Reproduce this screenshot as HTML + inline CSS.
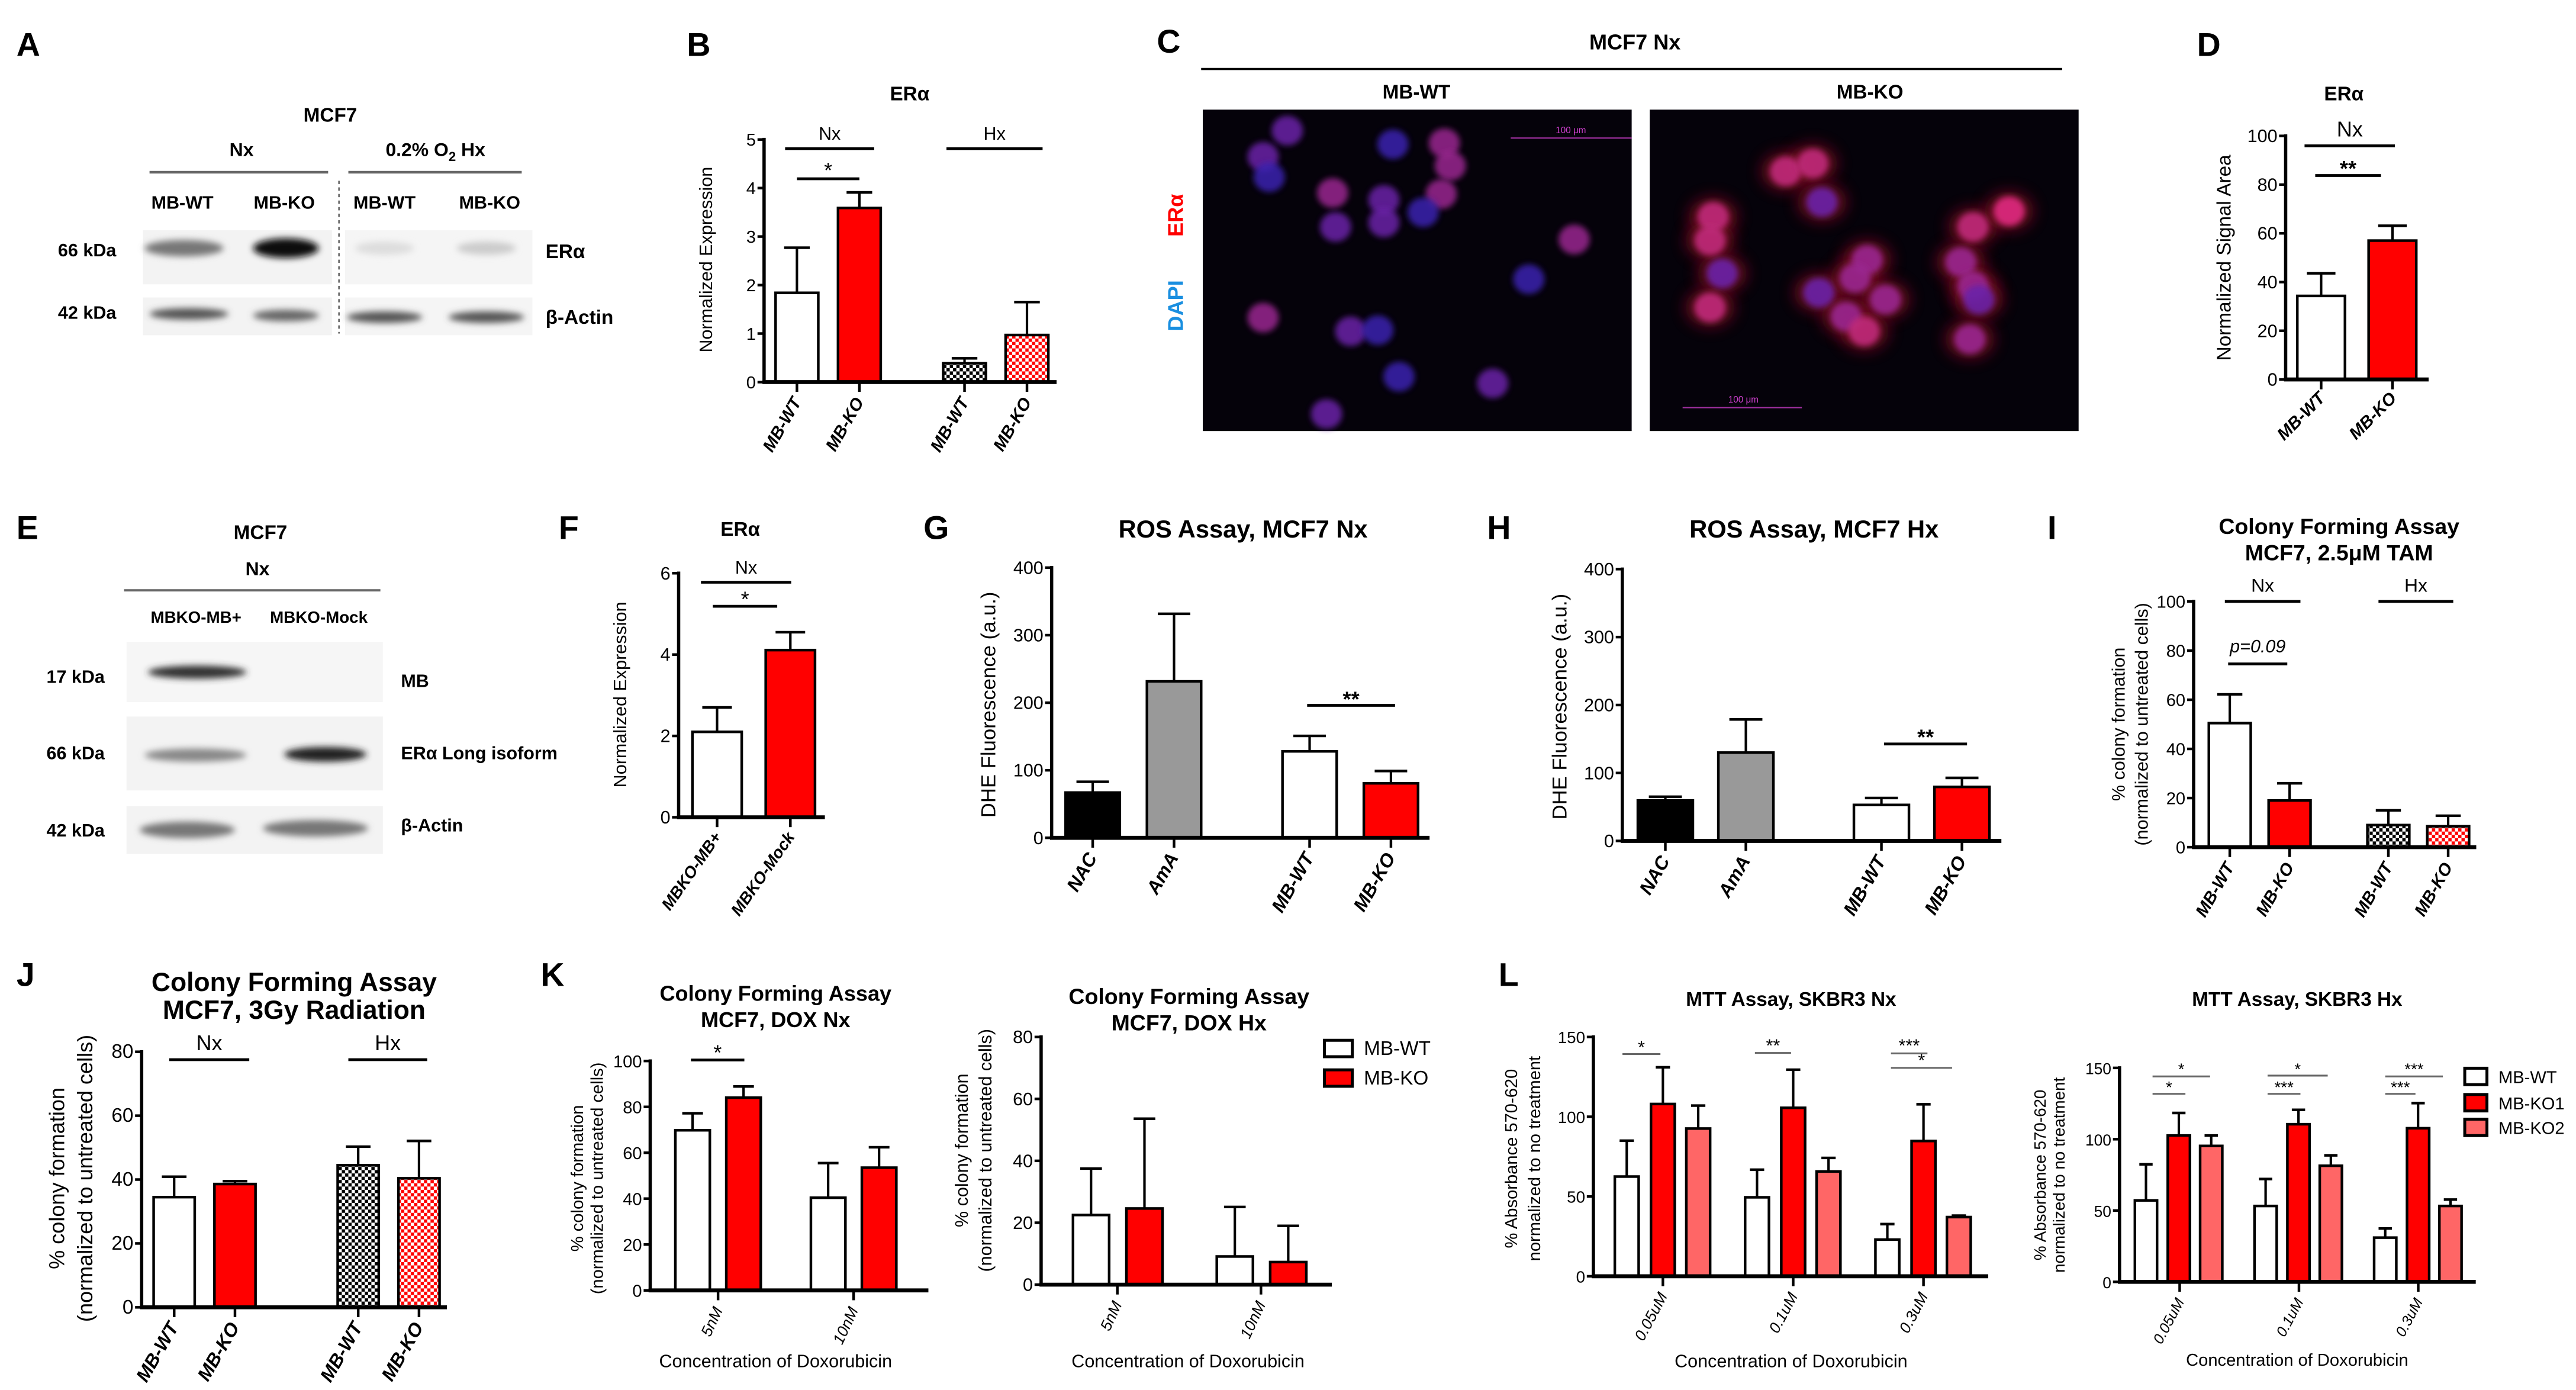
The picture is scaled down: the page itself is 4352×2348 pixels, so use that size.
<!DOCTYPE html>
<html><head><meta charset="utf-8"><style>
html,body{margin:0;padding:0;background:#fff;}
svg{display:block;font-family:"Liberation Sans",Arial,sans-serif;}
</style></head><body>
<svg id="fig" xmlns="http://www.w3.org/2000/svg" width="4352" height="2348" viewBox="0 0 1567.7 845.8">
<defs>
<pattern id="chkK" width="4" height="4" patternUnits="userSpaceOnUse"><rect width="4" height="4" fill="#fff"/><rect width="2" height="2" fill="#000"/><rect x="2" y="2" width="2" height="2" fill="#000"/></pattern>
<pattern id="chkR" width="4" height="4" patternUnits="userSpaceOnUse"><rect width="4" height="4" fill="#fff"/><rect width="2" height="2" fill="#f00"/><rect x="2" y="2" width="2" height="2" fill="#f00"/></pattern>
<filter id="blur2" x="-50%" y="-50%" width="200%" height="200%"><feGaussianBlur stdDeviation="2"/></filter>
<filter id="blur1" x="-50%" y="-50%" width="200%" height="200%"><feGaussianBlur stdDeviation="1.8"/></filter>
<filter id="blur4" x="-50%" y="-50%" width="200%" height="200%"><feGaussianBlur stdDeviation="4.5"/></filter>
</defs>

<!-- Panel letters -->
<g font-weight="bold" font-size="20">
<text x="10" y="34">A</text>
<text x="418" y="34">B</text>
<text x="704" y="32">C</text>
<text x="1337" y="34">D</text>
<text x="10" y="328">E</text>
<text x="340" y="328">F</text>
<text x="562" y="328">G</text>
<text x="905" y="328">H</text>
<text x="1246" y="328">I</text>
<text x="10" y="600">J</text>
<text x="329" y="600">K</text>
<text x="912" y="600">L</text>
</g>

<!-- Panel A western blot -->
<g font-weight="bold">
<text x="201" y="74" font-size="12" text-anchor="middle">MCF7</text>
<text x="147" y="95" font-size="11.5" text-anchor="middle">Nx</text>
<text x="265" y="95" font-size="11.5" text-anchor="middle">0.2% O<tspan font-size="8" dy="3">2</tspan><tspan dy="-3"> Hx</tspan></text>
<line x1="91" y1="104.8" x2="199.7" y2="104.8" stroke="#666" stroke-width="1.6"/>
<line x1="212" y1="104.8" x2="317.5" y2="104.8" stroke="#666" stroke-width="1.6"/>
<line x1="206.3" y1="110" x2="206.3" y2="203" stroke="#444" stroke-width="0.8" stroke-dasharray="2,2"/>
<g font-size="11" text-anchor="middle">
<text x="111" y="127">MB-WT</text>
<text x="173" y="127">MB-KO</text>
<text x="234" y="127">MB-WT</text>
<text x="298" y="127">MB-KO</text>
</g>
<text x="53" y="156" font-size="11" text-anchor="middle">66 kDa</text>
<text x="53" y="194" font-size="11" text-anchor="middle">42 kDa</text>
<rect x="87" y="140" width="115" height="33" fill="#f3f3f3"/>
<rect x="210" y="140" width="114" height="33" fill="#f5f5f5"/>
<rect x="87" y="181" width="115" height="23" fill="#f3f3f3"/>
<rect x="210" y="181" width="114" height="23" fill="#f5f5f5"/>
<g filter="url(#blur2)">
<ellipse cx="112" cy="151" rx="24" ry="5" fill="#777"/>
<ellipse cx="174" cy="151" rx="20" ry="6" fill="#111"/>
<ellipse cx="234" cy="151" rx="18" ry="4" fill="#ddd"/>
<ellipse cx="296" cy="151" rx="18" ry="4" fill="#ccc"/>
<ellipse cx="115" cy="191" rx="24" ry="3.5" fill="#555"/>
<ellipse cx="174" cy="192" rx="20" ry="3.5" fill="#666"/>
<ellipse cx="234" cy="193" rx="23" ry="3.5" fill="#555"/>
<ellipse cx="296" cy="193" rx="23" ry="3.5" fill="#555"/>
</g>
<text x="332" y="157" font-size="12">ERα</text>
<text x="332" y="197" font-size="12">β-Actin</text>
</g>

<!-- Panel C micrographs -->
<g>
<text x="995" y="30" font-size="13" font-weight="bold" text-anchor="middle">MCF7 Nx</text>
<line x1="731" y1="42" x2="1255" y2="42" stroke="#000" stroke-width="1.3"/>
<text x="862" y="60" font-size="12" font-weight="bold" text-anchor="middle">MB-WT</text>
<text x="1138" y="60" font-size="12" font-weight="bold" text-anchor="middle">MB-KO</text>
<rect x="732" y="66.7" width="261" height="195.6" fill="#05020a"/>
<rect x="1004" y="66.7" width="261" height="195.6" fill="#05020a"/>
<g id="cellsL"></g><g id="cellsR"></g>
<text x="956" y="81" font-size="5.5" fill="#d040d0" text-anchor="middle">100 μm</text>
<line x1="919.4" y1="84" x2="993" y2="84" stroke="#a030a0" stroke-width="0.8"/>
<text x="1061" y="245" font-size="5.5" fill="#d040d0" text-anchor="middle">100 μm</text>
<line x1="1024" y1="248" x2="1096.6" y2="248" stroke="#a030a0" stroke-width="0.8"/>
<text transform="translate(720,131) rotate(-90)" font-size="13" font-weight="bold" fill="#f00" text-anchor="middle">ERα</text>
<text transform="translate(720,186) rotate(-90)" font-size="13" font-weight="bold" fill="#1a8fe0" text-anchor="middle">DAPI</text>
</g>

<!-- Panel E western blot -->
<g font-weight="bold">
<text x="158.5" y="328" font-size="12" text-anchor="middle">MCF7</text>
<text x="156.7" y="350" font-size="11.5" text-anchor="middle">Nx</text>
<line x1="75.5" y1="359.2" x2="231.5" y2="359.2" stroke="#666" stroke-width="1.4"/>
<text x="119.3" y="379" font-size="10" text-anchor="middle">MBKO-MB+</text>
<text x="194" y="379" font-size="10" text-anchor="middle">MBKO-Mock</text>
<rect x="77" y="390.6" width="156" height="36.6" fill="#f6f6f6"/>
<rect x="77" y="436" width="156" height="45" fill="#f3f3f3"/>
<rect x="77" y="490.6" width="156" height="29" fill="#f3f3f3"/>
<g filter="url(#blur2)">
<ellipse cx="120" cy="409" rx="30" ry="4" fill="#333"/>
<ellipse cx="119" cy="459.5" rx="31" ry="4" fill="#888"/>
<ellipse cx="198" cy="459" rx="25" ry="4.5" fill="#222"/>
<ellipse cx="114" cy="505" rx="29" ry="5" fill="#777"/>
<ellipse cx="192" cy="504" rx="32" ry="5" fill="#777"/>
</g>
<text x="46" y="415.5" font-size="11" text-anchor="middle">17 kDa</text>
<text x="46" y="462" font-size="11" text-anchor="middle">66 kDa</text>
<text x="46" y="509" font-size="11" text-anchor="middle">42 kDa</text>
<text x="244" y="418" font-size="11">MB</text>
<text x="244" y="462" font-size="11">ERα Long isoform</text>
<text x="244" y="506" font-size="11">β-Actin</text>
</g>

<g id="charts"></g>
</svg>
<script>
const NS = 'http://www.w3.org/2000/svg';
const root = document.getElementById('charts');

// ===== Chart data =====
const bCats = ['MB-WT', 'MB-KO', 'MB-WT', 'MB-KO'];
const bVals = [1.84, 3.59, 0.39, 0.97];
const bErrs = [2.77, 3.91, 0.49, 1.65];
const bTicks = [0, 1, 2, 3, 4, 5];

const dCats = ['MB-WT', 'MB-KO'];
const dVals = [34.3, 57];
const dErrs = [43.6, 63.1];
const dTicks = [0, 20, 40, 60, 80, 100];

const fCats = ['MBKO-MB+', 'MBKO-Mock'];
const fVals = [2.1, 4.11];
const fErrs = [2.7, 4.55];
const fTicks = [0, 2, 4, 6];

const gCats = ['NAC', 'AmA', 'MB-WT', 'MB-KO'];
const gVals = [67, 231.6, 128, 80.7];
const gErrs = [83, 331.6, 150.9, 98.9];
const gTicks = [0, 100, 200, 300, 400];

const hCats = ['NAC', 'AmA', 'MB-WT', 'MB-KO'];
const hVals = [59.6, 130, 53, 79.5];
const hErrs = [65, 178.8, 63.2, 92.8];
const hTicks = [0, 100, 200, 300, 400];

const iCats = ['MB-WT', 'MB-KO', 'MB-WT', 'MB-KO'];
const iVals = [50.5, 19, 9, 8.5];
const iErrs = [62.2, 26, 15, 12.8];
const iTicks = [0, 20, 40, 60, 80, 100];

const jCats = ['MB-WT', 'MB-KO', 'MB-WT', 'MB-KO'];
const jVals = [34.5, 38.6, 44.5, 40.4];
const jErrs = [40.9, 39.5, 50.3, 52.1];
const jTicks = [0, 20, 40, 60, 80];

const kDoses = ['5nM', '10nM'];
const k1Vals = [69.8, 84, 40.4, 53.5];
const k1Errs = [77.2, 88.9, 55.5, 62.4];
const k1Ticks = [0, 20, 40, 60, 80, 100];
const k2Vals = [22.5, 24.6, 9.1, 7.3];
const k2Errs = [37.5, 53.6, 25.1, 19];
const k2Ticks = [0, 20, 40, 60, 80];

const lDoses = ['0.05uM', '0.1uM', '0.3uM'];
const l1Vals = [62.5, 108, 92.6, 49.5, 105.6, 65.7, 23, 84.8, 37.1];
const l1Errs = [85, 131, 107, 66.8, 129.5, 74.2, 32.7, 107.8, 38];
const l2Vals = [57.1, 102.6, 95.3, 53.2, 110.5, 81.4, 31, 107.7, 53.2];
const l2Errs = [82.4, 118.4, 102.6, 72.1, 120.6, 88.7, 37.4, 125.3, 57.7];
const lTicks = [0, 50, 100, 150];

// ===== helpers =====
function mk(tag, attrs, parent) {
  const e = document.createElementNS(NS, tag);
  for (const k in attrs) e.setAttribute(k, attrs[k]);
  parent.appendChild(e);
  return e;
}
const FILL = {W:'#fff', R:'#f00', K:'#000', G:'#999', P:'#f66', CK:'url(#chkK)', CR:'url(#chkR)'};

function drawChart(c) {
  const g = mk('g', {}, root);
  
  
  const Y = v => c.y0 - (v / c.max) * (c.y0 - c.yTop);
  const ya = mk('line', {x1:c.ax, y1:Y(c.max)-1, x2:c.ax, y2:c.y0, stroke:'#000', 'stroke-width':2}, g);
  
  
  c.ticks.forEach(t => {
    const tl = mk('line', {x1:c.ax-4, y1:Y(t), x2:c.ax, y2:Y(t), stroke:'#000', 'stroke-width':1.6}, g);
    
    
    const tt = mk('text', {x:c.ax-5, y:Y(t)+3.8, 'font-size':c.tfs||11, 'text-anchor':'end'}, g);
    tt.textContent = t;
    
    
  });
  c.vals.forEach((v, i) => {
    const cx = c.cx(i);
    const eb = mk('line', {x1:cx, y1:Y(v), x2:cx, y2:Y(c.errs[i]), stroke:'#000', 'stroke-width':1.5}, g);
    
    
    const cap = mk('line', {x1:cx-c.bw*0.3, y1:Y(c.errs[i]), x2:cx+c.bw*0.3, y2:Y(c.errs[i]), stroke:'#000', 'stroke-width':1.6}, g);
    
    
    const r = mk('rect', {x:cx-c.bw/2, y:Y(v), width:c.bw, height:c.y0-Y(v), fill:FILL[c.fills[i]], stroke:'#000', 'stroke-width':1.6}, g);
    
    
  });
  const xa = mk('line', {x1:c.ax-1, y1:c.y0, x2:c.xEnd, y2:c.y0, stroke:'#000', 'stroke-width':2.4}, g);
  
  
  c.xlabels.forEach((lab, i) => {
    const tx = c.tx(i);
    const tk = mk('line', {x1:tx, y1:c.y0, x2:tx, y2:c.y0+6, stroke:'#000', 'stroke-width':1.6}, g);
    
    
    const lx = tx + 3, ly = c.y0 + 12;
    const t = mk('text', {x:lx, y:ly, 'font-size':c.xfs||10.5, 'text-anchor':'end', 'font-style':'italic', 'font-weight':c.xbold===false?'normal':'bold', transform:'rotate(' + (c.rot||-60) + ' ' + lx + ' ' + ly + ')'}, g);
    t.textContent = lab;
    
    
  });
  (c.sig||[]).forEach(s => {
    const l = mk('line', {x1:s[0], y1:s[2], x2:s[1], y2:s[2], stroke:c.sigColor||'#000', 'stroke-width':c.sigW||1.7}, g);
    
    
    const t = mk('text', {x:(s[0]+s[1])/2, y:s[4], 'font-size':s[5]||11, 'text-anchor':'middle', 'font-style':s[6]||'normal', 'font-weight':s[7]||'normal'}, g);
    t.textContent = s[3];
    
    
  });
  (c.titles||[]).forEach(tl => {
    const t = mk('text', {x:tl[1], y:tl[2], 'font-size':tl[3], 'font-weight':'bold', 'text-anchor':'middle'}, g);
    t.textContent = tl[0];
    
    
  });
  (c.ylab||[]).forEach(yl => {
    const t = mk('text', {transform:'translate(' + yl[1] + ',' + yl[2] + ') rotate(-90)', 'font-size':yl[3], 'text-anchor':'middle', 'dominant-baseline':'central'}, g);
    t.textContent = yl[0];
    
    
  });
  if (c.xtitle) {
    const t = mk('text', {x:c.xtitle[1], y:c.xtitle[2], 'font-size':c.xtitle[3], 'text-anchor':'middle'}, g);
    t.textContent = c.xtitle[0];
    
    
  }
  (c.legend||[]).forEach(lg => {
    const r = mk('rect', {x:lg[1], y:lg[2], width:lg[3], height:lg[4], fill:FILL[lg[5]], stroke:'#000', 'stroke-width':1.8}, g);
    
    
    const t = mk('text', {x:lg[1]+lg[3]+7, y:lg[2]+lg[4]/2+4, 'font-size':lg[6]}, g);
    t.textContent = lg[0];
    
    
  });
}

drawChart({name:'chart-b-era-expression', ax:465, y0:232.5, yTop:84.9, max:5, ticks:bTicks, xEnd:643,
  vals:bVals, errs:bErrs, fills:['W','R','CK','CR'], bw:26,
  cx:i => 485 + i*38 + (i>=2?26:0), tx:i => 485 + i*38 + (i>=2?26:0), xlabels:bCats, tfs:10.5,
  sig:[[477.8,532,90.4,'Nx',85],[576,634.5,90.4,'Hx',85],[485,523,108.8,'*',108,13]],
  titles:[['ERα',553.6,61,12]], ylab:[['Normalized Expression',429.7,158,11]]});

drawChart({name:'chart-d-signal-area', ax:1391, y0:230.9, yTop:82.7, max:100, ticks:dTicks, xEnd:1478,
  vals:dVals, errs:dErrs, fills:['W','R'], bw:29,
  cx:i => 1412.6 + i*43.4, tx:i => 1412.6 + i*43.4, xlabels:dCats, xbold:true, rot:-45, tfs:11,
  sig:[[1402.5,1457.5,88.7,'Nx',83,13],[1409,1449,106.8,'**',107,13,'normal','bold']],
  titles:[['ERα',1426.4,61,12]], ylab:[['Normalized Signal Area',1353.8,156.8,12]]});

drawChart({name:'chart-f-era-expression', ax:413, y0:497.3, yTop:348.8, max:6, ticks:fTicks, xEnd:502,
  vals:fVals, errs:fErrs, fills:['W','R'], bw:30,
  cx:i => 436.4 + i*44.6, tx:i => 436.4 + i*44.6, xlabels:fCats, rot:-55, xfs:10,
  sig:[[426.6,481.5,354.3,'Nx',349],[433.8,473,368.9,'*',369,13]],
  titles:[['ERα',450.5,326,12]], ylab:[['Normalized Expression',377.5,422.7,11]]});

drawChart({name:'chart-g-ros-nx', ax:640, y0:509.8, yTop:345.4, max:400, ticks:gTicks, xEnd:870,
  vals:gVals, errs:gErrs, fills:['K','G','W','R'], bw:33,
  cx:i => 665 + i*49.5 + (i>=2?33:0), tx:i => 665 + i*49.5 + (i>=2?33:0), xlabels:gCats, xfs:11.5,
  sig:[[795.5,849,429.2,'**',430,13,'normal','bold']],
  titles:[['ROS Assay, MCF7 Nx',756.5,327,15]], ylab:[['DHE Fluorescence (a.u.)',601.7,428.8,12.5]]});

drawChart({name:'chart-h-ros-hx', ax:987.3, y0:511.7, yTop:346.3, max:400, ticks:hTicks, xEnd:1218,
  vals:hVals, errs:hErrs, fills:['K','G','W','R'], bw:33.5,
  cx:i => 1013.5 + i*49 + (i>=2?33.5:0), tx:i => 1013.5 + i*49 + (i>=2?33.5:0), xlabels:hCats, xfs:11.5,
  sig:[[1146.6,1197.1,452.7,'**',453,13,'normal','bold']],
  titles:[['ROS Assay, MCF7 Hx',1104,327,15]], ylab:[['DHE Fluorescence (a.u.)',949.3,430,12.5]]});

drawChart({name:'chart-i-colony-tam', ax:1335, y0:515.5, yTop:366, max:100, ticks:iTicks, xEnd:1507,
  vals:iVals, errs:iErrs, fills:['W','R','CK','CR'], bw:25.5,
  cx:i => 1357 + i*36.4 + (i>=2?23.7:0), tx:i => 1357 + i*36.4 + (i>=2?23.7:0), xlabels:iCats, tfs:10.5,
  sig:[[1354,1400,366,'Nx',360,11.5],[1447.5,1493,366,'Hx',360,11.5],[1356,1392,404,'p=0.09',397,11,'italic']],
  titles:[['Colony Forming Assay',1423.5,325,13.5],['MCF7, 2.5μM TAM',1423.5,341,13.5]],
  ylab:[['% colony formation',1289.4,440.7,11],['(normalized to untreated cells)',1303.4,440.7,11]]});

drawChart({name:'chart-j-colony-radiation', ax:86.2, y0:795.5, yTop:640, max:80, ticks:jTicks, xEnd:272,
  vals:jVals, errs:jErrs, fills:['W','R','CK','CR'], bw:25,
  cx:i => 106 + i*37 + (i>=2?38:0), tx:i => 106 + i*37 + (i>=2?38:0), xlabels:jCats, tfs:12, xfs:11.5,
  sig:[[103,151.7,644.8,'Nx',639,13],[212,260,644.8,'Hx',639,13]],
  titles:[['Colony Forming Assay',179,603,16],['MCF7, 3Gy Radiation',179,620,16]],
  ylab:[['% colony formation',34.5,717,13],['(normalized to untreated cells)',51.7,717,13]]});

drawChart({name:'chart-k-colony-dox-nx', ax:395.7, y0:785.2, yTop:645.6, max:100, ticks:k1Ticks, xEnd:565,
  vals:k1Vals, errs:k1Errs, fills:['W','R','W','R'], bw:21,
  cx:i => 421.5 + (i%2)*31 + Math.floor(i/2)*82.5, tx:i => 437 + i*82.5, xlabels:kDoses, xbold:false, rot:-65, xfs:9.5, tfs:10.5,
  sig:[[420.5,453,645,'*',645,13]],
  titles:[['Colony Forming Assay',472,609,13],['MCF7, DOX Nx',472,625,13]],
  ylab:[['% colony formation',351.6,717,10.5],['(normalized to untreated cells)',363.7,717,10.5]],
  xtitle:['Concentration of Doxorubicin',472,832,11]});

drawChart({name:'chart-k-colony-dox-hx', ax:633.6, y0:781.7, yTop:631, max:80, ticks:k2Ticks, xEnd:810.5,
  vals:k2Vals, errs:k2Errs, fills:['W','R','W','R'], bw:22,
  cx:i => 664 + (i%2)*32.5 + Math.floor(i/2)*87.5, tx:i => 680 + i*87.4, xlabels:kDoses, xbold:false, rot:-65, xfs:9.5, tfs:11,
  titles:[['Colony Forming Assay',723.6,611,13.5],['MCF7, DOX Hx',723.6,627,13.5]],
  ylab:[['% colony formation',585.3,700,11],['(normalized to untreated cells)',599.8,700,11]],
  xtitle:['Concentration of Doxorubicin',723,832,11],
  legend:[['MB-WT',806,633,17,10,'W',12],['MB-KO',806,651,17,10,'R',12]]});

drawChart({name:'chart-l-mtt-nx', ax:969.7, y0:776.6, yTop:631, max:150, ticks:lTicks, xEnd:1210,
  vals:l1Vals, errs:l1Errs, fills:['W','R','P','W','R','P','W','R','P'], bw:14.5,
  cx:i => 1012 + Math.floor(i/3)*79.3 + [-22,0,21.5][i%3], tx:i => 1012 + i*79.3, xlabels:lDoses, xbold:false, rot:-62, xfs:9.5, tfs:10,
  sigColor:'#666', sigW:1.1,
  sig:[[987.4,1010.5,641.4,'*',641,11],[1068,1090,640.7,'**',640,11],[1150.8,1173,641,'***',640,11],[1150.8,1188,649.8,'*',649,11]],
  titles:[['MTT Assay, SKBR3 Nx',1090,612,12]],
  ylab:[['% Absorbance 570-620',920,705,10.5],['normalized to no treatment',934,705,10.5]],
  xtitle:['Concentration of Doxorubicin',1090,832,11]});

drawChart({name:'chart-l-mtt-hx', ax:1289.9, y0:780, yTop:649.8, max:150, ticks:lTicks, xEnd:1506.7,
  vals:l2Vals, errs:l2Errs, fills:['W','R','P','W','R','P','W','R','P'], bw:13.5,
  cx:i => 1326 + Math.floor(i/3)*72.8 + [-20,0,19.7][i%3], tx:i => 1326.5 + i*72.6, xlabels:lDoses, xbold:false, rot:-62, xfs:9, tfs:9.5,
  sigColor:'#666', sigW:1.1,
  sig:[[1310,1345,655,'*',654,10],[1310,1330,665.6,'*',665,10],[1380,1416.6,654.5,'*',654,10],[1380,1400,665.6,'***',665,10],[1451.6,1486.7,655,'***',654,10],[1451.6,1470,665.6,'***',665,10]],
  titles:[['MTT Assay, SKBR3 Hx',1398,612,12]],
  ylab:[['% Absorbance 570-620',1241.5,715,10],['normalized to no treatment',1253,715,10]],
  xtitle:['Concentration of Doxorubicin',1398,831,10.5],
  legend:[['MB-WT',1500,650,13.5,10,'W',10.5],['MB-KO1',1500,666,13.5,10,'R',10.5],['MB-KO2',1500,681,13.5,10,'P',10.5]]});

// ===== micrograph cells (decorative) =====
const COL = {b:'#3a20b0', p:'#6a24a8', m:'#9a2890', k:'#c02a7a', h:'#e02a80'};
const cellsLeft = [[783.4,79.5,'p'],[768.7,95.4,'p'],[772.4,107.8,'b'],[847.7,87.8,'b'],[879,87.1,'m'],[882.6,100.9,'m'],[877.1,118.1,'m'],[811,117.4,'m'],[842.2,121.6,'p'],[866.1,129.2,'b'],[812.8,138.1,'p'],[842.2,135.4,'p'],[958,145.7,'m'],[930.4,169.9,'b'],[768.7,193.3,'m'],[822,201.6,'p'],[838.5,200.9,'b'],[851.4,229.2,'b'],[908.4,233.3,'p'],[807.3,251.9,'p']];
const cellsRight = [[1086.7,104.3,'k'],[1103.2,99.5,'k'],[1108.8,123,'p'],[1042.6,131.9,'k'],[1040.7,146.4,'k'],[1048.1,166.4,'p'],[1040.7,187.1,'k'],[1106.9,178.1,'p'],[1136.3,158.1,'m'],[1129,169.2,'m'],[1147.4,182.3,'m'],[1123.5,192.6,'m'],[1134.5,201.6,'k'],[1200.7,138.1,'k'],[1222.7,128.5,'h'],[1193.3,159.5,'m'],[1200.7,174,'m'],[1204.3,182.3,'p'],[1198.8,206.4,'m']];
const gL = document.getElementById('cellsL');
cellsLeft.forEach(cc => {
  const e = mk('ellipse', {cx:cc[0], cy:cc[1], rx:9.5, ry:9, fill:COL[cc[2]], filter:'url(#blur1)', opacity:0.85}, gL);
  
  
});
const gR = document.getElementById('cellsR');
cellsRight.forEach(cc => {
  const h = mk('ellipse', {cx:cc[0], cy:cc[1], rx:15, ry:12, fill:'#801020', filter:'url(#blur4)', opacity:0.75}, gR);
  
  
});
cellsRight.forEach(cc => {
  const e = mk('ellipse', {cx:cc[0], cy:cc[1], rx:9.5, ry:9, fill:COL[cc[2]], filter:'url(#blur1)', opacity:0.9}, gR);
  
  
});
</script>
</body></html>
